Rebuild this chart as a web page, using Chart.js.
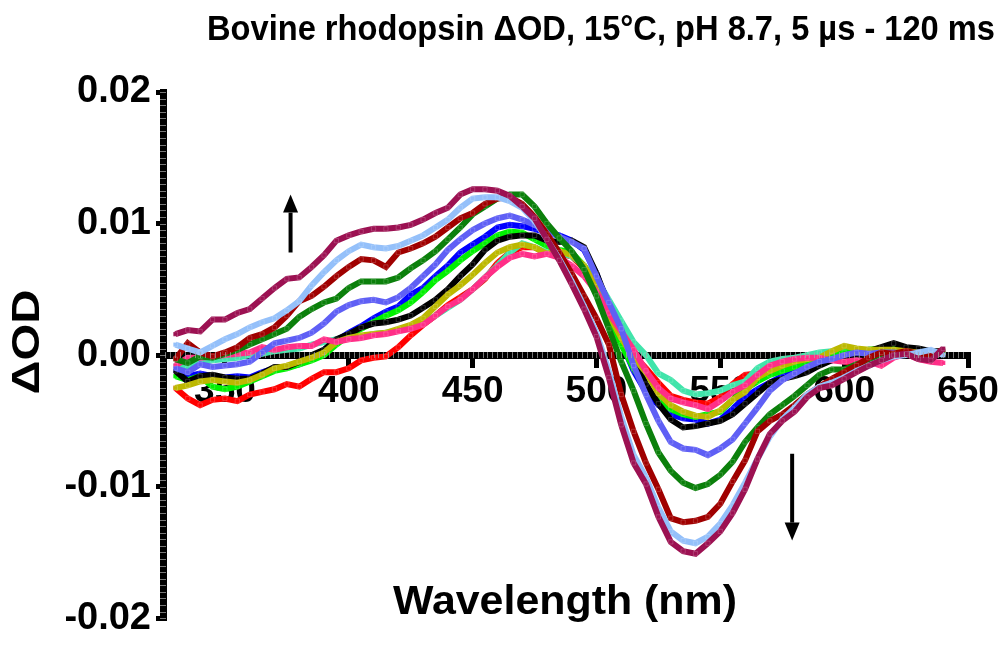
<!DOCTYPE html>
<html>
<head>
<meta charset="utf-8">
<script src="https://cdn.jsdelivr.net/npm/chart.js@4.4.1/dist/chart.umd.min.js"></script>
<style>
  html, body { margin: 0; padding: 0; background: #fff; }
  #wrap { width: 1005px; height: 646px; position: relative; }
</style>
</head>
<body>
<div id="wrap"><canvas id="spectra"></canvas></div>
<script>
// Bovine rhodopsin transient difference spectra, 5 us - 120 ms.
// Traces are named by their colour on the plot (earliest = red, latest = maroon).

const wavelength = [330, 335, 340, 345, 350, 355, 360, 365, 370, 375, 380, 385, 390, 395, 400,
  405, 410, 415, 420, 425, 430, 435, 440, 445, 450, 455, 460, 465, 470, 475, 480, 485, 490, 495,
  500, 505, 510, 515, 520, 525, 530, 535, 540, 545, 550, 555, 560, 565, 570, 575, 580, 585, 590,
  595, 600, 605, 610, 615, 620, 625, 630, 635, 640];

const xTicks = [350, 400, 450, 500, 550, 600, 650];
const yTicks = [-0.02, -0.01, 0.00, 0.01, 0.02];

const maroonTrace = [0.0016, 0.0019, 0.0018, 0.0027, 0.0027, 0.0032, 0.0035, 0.0043, 0.0051, 0.0058,
  0.0059, 0.0067, 0.0076, 0.0087, 0.0091, 0.0094, 0.0096, 0.0096, 0.0097, 0.0099, 0.0103, 0.0108,
  0.0112, 0.0122, 0.0126, 0.0126, 0.0125, 0.0121, 0.0113, 0.0104, 0.0088, 0.0072, 0.0054, 0.0035,
  0.0014, -0.0017, -0.0053, -0.0082, -0.0098, -0.0123, -0.0142, -0.0149, -0.0151, -0.0143, -0.0134,
  -0.0120, -0.0102, -0.0079, -0.0060, -0.0050, -0.0043, -0.0032, -0.0025, -0.0023, -0.0018, -0.0013,
  -0.0008, -0.0004, 0.0000, 0.0001, -0.0003, -0.0004, 0.0005];

const lightBlueTrace = [0.0008, 0.0005, 0.0002, 0.0007, 0.0012, 0.0016, 0.0021, 0.0025, 0.0028, 0.0034,
  0.0041, 0.0053, 0.0063, 0.0072, 0.0079, 0.0084, 0.0082, 0.0081, 0.0083, 0.0087, 0.0091, 0.0097,
  0.0103, 0.0112, 0.0119, 0.0120, 0.0120, 0.0117, 0.0112, 0.0102, 0.0088, 0.0073, 0.0056, 0.0037,
  0.0017, -0.0012, -0.0047, -0.0076, -0.0093, -0.0116, -0.0134, -0.0141, -0.0143, -0.0138, -0.0128,
  -0.0114, -0.0097, -0.0079, -0.0062, -0.0049, -0.0040, -0.0030, -0.0024, -0.0021, -0.0017, -0.0012,
  -0.0008, -0.0004, -0.0001, 0.0000, 0.0002, 0.0004, 0.0000];

const darkRedTrace = [-0.0003, 0.0009, 0.0002, -0.0001, 0.0002, 0.0006, 0.0013, 0.0016, 0.0021, 0.0030,
  0.0041, 0.0045, 0.0052, 0.0060, 0.0067, 0.0073, 0.0072, 0.0067, 0.0078, 0.0081, 0.0085, 0.0090,
  0.0097, 0.0104, 0.0108, 0.0115, 0.0119, 0.0120, 0.0115, 0.0105, 0.0092, 0.0078, 0.0062, 0.0045,
  0.0028, 0.0008, -0.0030, -0.0058, -0.0082, -0.0102, -0.0124, -0.0127, -0.0126, -0.0123, -0.0113,
  -0.0096, -0.0080, -0.0058, -0.0050, -0.0045, -0.0038, -0.0030, -0.0024, -0.0018, -0.0013, -0.0008,
  -0.0002, 0.0002, 0.0001, 0.0003, 0.0001, 0.0000, 0.0004];

const greenTrace = [-0.0003, -0.0006, -0.0001, -0.0002, 0.0001, 0.0004, 0.0008, 0.0012, 0.0016, 0.0020,
  0.0029, 0.0035, 0.0040, 0.0043, 0.0051, 0.0056, 0.0056, 0.0056, 0.0059, 0.0066, 0.0072, 0.0079,
  0.0088, 0.0097, 0.0107, 0.0113, 0.0119, 0.0122, 0.0122, 0.0113, 0.0100, 0.0089, 0.0079, 0.0065,
  0.0045, 0.0020, -0.0005, -0.0027, -0.0052, -0.0074, -0.0088, -0.0097, -0.0101, -0.0098, -0.0091,
  -0.0081, -0.0066, -0.0055, -0.0045, -0.0038, -0.0031, -0.0023, -0.0015, -0.0011, -0.0011, -0.0007,
  -0.0004, 0.0000, 0.0000, 0.0001, -0.0001, 0.0002, 0.0002];

const periwinkleTrace = [-0.0010, -0.0013, -0.0007, -0.0009, -0.0008, -0.0007, -0.0005, 0.0002, 0.0009,
  0.0011, 0.0013, 0.0017, 0.0024, 0.0033, 0.0038, 0.0041, 0.0042, 0.0040, 0.0044, 0.0051, 0.0060,
  0.0069, 0.0080, 0.0088, 0.0095, 0.0100, 0.0104, 0.0106, 0.0103, 0.0099, 0.0094, 0.0090, 0.0086,
  0.0081, 0.0060, 0.0040, 0.0020, -0.0008, -0.0030, -0.0050, -0.0066, -0.0071, -0.0072, -0.0076,
  -0.0071, -0.0064, -0.0052, -0.0040, -0.0027, -0.0019, -0.0014, -0.0009, -0.0005, -0.0003, 0.0000,
  0.0002, 0.0001, 0.0002, 0.0002, 0.0001, 0.0002, 0.0001, 0.0003];

const blueTrace = [-0.0012, -0.0016, -0.0014, -0.0016, -0.0017, -0.0016, -0.0017, -0.0013, -0.0010,
  -0.0009, -0.0007, -0.0003, 0.0004, 0.0011, 0.0017, 0.0022, 0.0028, 0.0033, 0.0037, 0.0046, 0.0051,
  0.0060, 0.0068, 0.0078, 0.0084, 0.0090, 0.0097, 0.0099, 0.0098, 0.0096, 0.0093, 0.0091, 0.0087,
  0.0080, 0.0062, 0.0035, 0.0010, -0.0012, -0.0028, -0.0038, -0.0045, -0.0048, -0.0049, -0.0052,
  -0.0049, -0.0041, -0.0032, -0.0026, -0.0021, -0.0016, -0.0012, -0.0009, -0.0006, -0.0004, -0.0001,
  0.0002, 0.0004, 0.0003, 0.0003, 0.0002, 0.0002, 0.0001, 0.0002];

const blackTrace = [-0.0012, -0.0020, -0.0016, -0.0015, -0.0017, -0.0018, -0.0018, -0.0014, -0.0009,
  -0.0009, -0.0005, 0.0000, 0.0004, 0.0012, 0.0016, 0.0021, 0.0024, 0.0025, 0.0027, 0.0030, 0.0036,
  0.0042, 0.0050, 0.0060, 0.0069, 0.0080, 0.0087, 0.0090, 0.0091, 0.0091, 0.0087, 0.0086, 0.0087,
  0.0082, 0.0062, 0.0038, 0.0018, -0.0002, -0.0022, -0.0037, -0.0049, -0.0055, -0.0054, -0.0052,
  -0.0050, -0.0045, -0.0037, -0.0029, -0.0021, -0.0018, -0.0016, -0.0013, -0.0008, -0.0004, -0.0002,
  0.0000, 0.0003, 0.0006, 0.0009, 0.0006, 0.0005, 0.0003, 0.0003];

const limeTrace = [-0.0016, -0.0019, -0.0016, -0.0024, -0.0026, -0.0024, -0.0020, -0.0016, -0.0012,
  -0.0010, -0.0007, -0.0004, 0.0000, 0.0008, 0.0015, 0.0020, 0.0025, 0.0030, 0.0034, 0.0040, 0.0048,
  0.0057, 0.0064, 0.0072, 0.0079, 0.0085, 0.0091, 0.0094, 0.0093, 0.0088, 0.0083, 0.0080, 0.0078,
  0.0068, 0.0050, 0.0028, 0.0008, -0.0010, -0.0025, -0.0035, -0.0041, -0.0045, -0.0047, -0.0045,
  -0.0043, -0.0034, -0.0026, -0.0020, -0.0015, -0.0012, -0.0009, -0.0006, -0.0003, -0.0001, 0.0002,
  0.0003, 0.0004, 0.0005, 0.0006, 0.0005, 0.0003, 0.0002, 0.0003];

const oliveTrace = [-0.0025, -0.0023, -0.0020, -0.0019, -0.0020, -0.0021, -0.0019, -0.0015, -0.0010,
  -0.0008, -0.0005, -0.0002, 0.0002, 0.0010, 0.0013, 0.0015, 0.0016, 0.0017, 0.0020, 0.0023, 0.0028,
  0.0037, 0.0046, 0.0053, 0.0061, 0.0070, 0.0078, 0.0082, 0.0084, 0.0082, 0.0077, 0.0079, 0.0076,
  0.0068, 0.0052, 0.0031, 0.0013, -0.0002, -0.0013, -0.0029, -0.0038, -0.0043, -0.0046, -0.0047,
  -0.0042, -0.0034, -0.0028, -0.0017, -0.0012, -0.0008, -0.0005, -0.0003, -0.0002, 0.0003, 0.0007,
  0.0005, 0.0004, 0.0004, 0.0004, 0.0003, 0.0002, 0.0002, 0.0002];

const aquaTrace = [-0.0008, -0.0010, -0.0005, -0.0004, -0.0003, -0.0002, 0.0000, 0.0001, 0.0003, 0.0004,
  0.0005, 0.0008, 0.0010, 0.0012, 0.0013, 0.0014, 0.0016, 0.0017, 0.0019, 0.0021, 0.0024, 0.0030,
  0.0036, 0.0042, 0.0050, 0.0059, 0.0068, 0.0078, 0.0085, 0.0082, 0.0078, 0.0078, 0.0075, 0.0068,
  0.0058, 0.0042, 0.0026, 0.0010, 0.0000, -0.0014, -0.0019, -0.0027, -0.0030, -0.0029, -0.0027,
  -0.0023, -0.0020, -0.0010, -0.0005, -0.0003, -0.0002, 0.0000, 0.0002, 0.0003, 0.0003, 0.0004,
  0.0003, 0.0004, 0.0003, 0.0004, 0.0002, 0.0002, 0.0002];

const pinkTrace = [-0.0008, -0.0002, -0.0002, -0.0001, 0.0000, 0.0001, 0.0002, 0.0006, 0.0004, 0.0006,
  0.0007, 0.0007, 0.0012, 0.0010, 0.0012, 0.0013, 0.0015, 0.0016, 0.0018, 0.0020, 0.0023, 0.0030,
  0.0037, 0.0042, 0.0050, 0.0059, 0.0067, 0.0074, 0.0077, 0.0075, 0.0077, 0.0074, 0.0068, 0.0060,
  0.0048, 0.0032, 0.0018, 0.0004, -0.0012, -0.0025, -0.0033, -0.0036, -0.0038, -0.0041, -0.0035,
  -0.0028, -0.0023, -0.0015, -0.0008, -0.0005, -0.0003, -0.0002, -0.0002, -0.0004, -0.0005, -0.0004,
  -0.0005, -0.0008, -0.0002, 0.0001, -0.0003, -0.0005, -0.0006];

const redTrace = [-0.0025, -0.0033, -0.0038, -0.0034, -0.0033, -0.0035, -0.0030, -0.0028, -0.0026,
  -0.0022, -0.0024, -0.0018, -0.0013, -0.0013, -0.0010, -0.0004, -0.0002, -0.0001, 0.0006, 0.0015,
  0.0023, 0.0030, 0.0038, 0.0044, 0.0050, 0.0058, 0.0070, 0.0078, 0.0082, 0.0082, 0.0077, 0.0077,
  0.0075, 0.0066, 0.0052, 0.0034, 0.0018, 0.0000, -0.0010, -0.0021, -0.0031, -0.0034, -0.0036,
  -0.0037, -0.0032, -0.0022, -0.0015, -0.0014, -0.0010, -0.0007, -0.0004, -0.0002, -0.0001, 0.0000,
  -0.0004, -0.0009, -0.0005, -0.0002, 0.0001, 0.0002, 0.0000, 0.0001, 0.0001];

// Annotation arrows, in data units: [wavelength, tail, head]
const riseArrow = [376.5, 0.0078, 0.0122];
const fallArrow = [579, -0.0075, -0.0141];

const titleText = "Bovine rhodopsin \u0394OD, 15\u00b0C, pH 8.7, 5 \u00b5s - 120 ms";
const xTitleText = "Wavelength (nm)";
const yTitleText = "\u0394OD";

// first entry is drawn on top
const traces = [
  { values: maroonTrace, color: "#9c1152" },
  { values: lightBlueTrace, color: "#94c0fa" },
  { values: darkRedTrace, color: "#a00000" },
  { values: greenTrace, color: "#0b800b" },
  { values: periwinkleTrace, color: "#5f5ff5" },
  { values: pinkTrace, color: "#ff2e87" },
  { values: oliveTrace, color: "#bcb800" },
  { values: blackTrace, color: "#000000" },
  { values: limeTrace, color: "#00f000" },
  { values: aquaTrace, color: "#40e4aa" },
  { values: blueTrace, color: "#0000ff" },
  { values: redTrace, color: "#ff0000" },
];

const FONT = "'Liberation Sans', Arial, Helvetica, sans-serif";

function fitText(ctx, text, x, y, width, font, rotate) {
  ctx.save();
  ctx.font = font;
  ctx.fillStyle = "#000";
  ctx.textAlign = "center";
  ctx.textBaseline = "middle";
  var sx = width / ctx.measureText(text).width;
  ctx.translate(x, y);
  if (rotate) ctx.rotate(-Math.PI / 2);
  ctx.scale(sx, 1);
  ctx.fillText(text, 0, 0);
  ctx.restore();
}

function drawArrow(ctx, chart, spec) {
  var xs = chart.scales.x, ys = chart.scales.y;
  var px = xs.getPixelForValue(spec[0]);
  var y0 = ys.getPixelForValue(spec[1]);
  var y1 = ys.getPixelForValue(spec[2]);
  var dir = y1 < y0 ? -1 : 1;
  var head = 18;
  ctx.save();
  ctx.strokeStyle = "#000";
  ctx.fillStyle = "#000";
  ctx.lineWidth = 4;
  ctx.beginPath();
  ctx.moveTo(px, y0);
  ctx.lineTo(px, y1 - dir * head);
  ctx.stroke();
  ctx.beginPath();
  ctx.moveTo(px, y1);
  ctx.lineTo(px - 7.5, y1 - dir * head);
  ctx.lineTo(px + 7.5, y1 - dir * head);
  ctx.closePath();
  ctx.fill();
  ctx.restore();
}

const decorations = {
  id: "decorations",
  afterDraw(chart) {
    var ctx = chart.ctx;
    var xs = chart.scales.x, ys = chart.scales.y;
    var area = chart.chartArea;

    // minor tick notches across the thick axis bars
    ctx.save();
    ctx.strokeStyle = "rgba(170,170,170,0.7)";
    ctx.lineWidth = 1;
    var zeroY = ys.getPixelForValue(0);
    for (var v = -0.02; v <= 0.02001; v += 0.0005) {
      var py = Math.round(ys.getPixelForValue(v)) + 0.5;
      ctx.beginPath();
      ctx.moveTo(area.left - 3, py);
      ctx.lineTo(area.left + 3, py);
      ctx.stroke();
    }
    for (var w = 326; w < 650; w += 2) {
      var pxm = Math.round(xs.getPixelForValue(w)) + 0.5;
      ctx.beginPath();
      ctx.moveTo(pxm, zeroY - 3);
      ctx.lineTo(pxm, zeroY + 3);
      ctx.stroke();
    }
    ctx.restore();

    drawArrow(ctx, chart, riseArrow);
    drawArrow(ctx, chart, fallArrow);

    fitText(ctx, titleText, 601, 30, 788, "bold 35px " + FONT, false);
    fitText(ctx, xTitleText, 565, 603, 344, "bold 41px " + FONT, false);
    fitText(ctx, yTitleText, 28, 342, 105, "bold 39px " + FONT, true);
  }
};

const datasets = traces.map(function (t) {
  return {
    data: t.values.map(function (v, i) { return { x: wavelength[i], y: v }; }),
    borderColor: t.color,
    backgroundColor: t.color,
    borderWidth: 6,
    pointStyle: "rect",
    pointRadius: 3,
    pointBorderWidth: 0.6,
    pointBorderColor: "rgba(255,255,255,0.3)",
    pointBackgroundColor: t.color,
    tension: 0,
    fill: false,
  };
});

new Chart(document.getElementById("spectra").getContext("2d"), {
  type: "line",
  data: { datasets: datasets },
  plugins: [decorations],
  options: {
    responsive: true,
    maintainAspectRatio: false,
    animation: false,
    layout: { padding: { top: 92, right: 37, bottom: 17, left: 0 } },
    plugins: { legend: { display: false }, tooltip: { enabled: false }, title: { display: false } },
    scales: {
      x: {
        type: "linear",
        min: 325,
        max: 650,
        position: { y: 0 },
        afterBuildTicks: function (scale) {
          scale.ticks = xTicks.map(function (v) { return { value: v }; });
        },
        grid: { drawOnChartArea: false, color: "#000", lineWidth: 5, tickLength: 9 },
        border: { display: true, color: "#000", width: 7 },
        ticks: {
          color: "#000",
          padding: 5,
          maxRotation: 0,
          autoSkip: false,
          font: { family: FONT, size: 37, weight: "bold" },
        },
      },
      y: {
        type: "linear",
        min: -0.02,
        max: 0.02,
        position: "left",
        afterBuildTicks: function (scale) {
          scale.ticks = yTicks.map(function (v) { return { value: v }; });
        },
        afterFit: function (scale) { scale.width = 163; },
        grid: { drawOnChartArea: false, color: "#000", lineWidth: 5, tickLength: 7 },
        border: { display: true, color: "#000", width: 7 },
        ticks: {
          color: "#000",
          padding: 5,
          font: { family: FONT, size: 38, weight: "bold" },
          callback: function (v) { return Math.abs(v) < 1e-9 ? "0.00" : v.toFixed(2); },
        },
      },
    },
  },
});
</script>
</body>
</html>
